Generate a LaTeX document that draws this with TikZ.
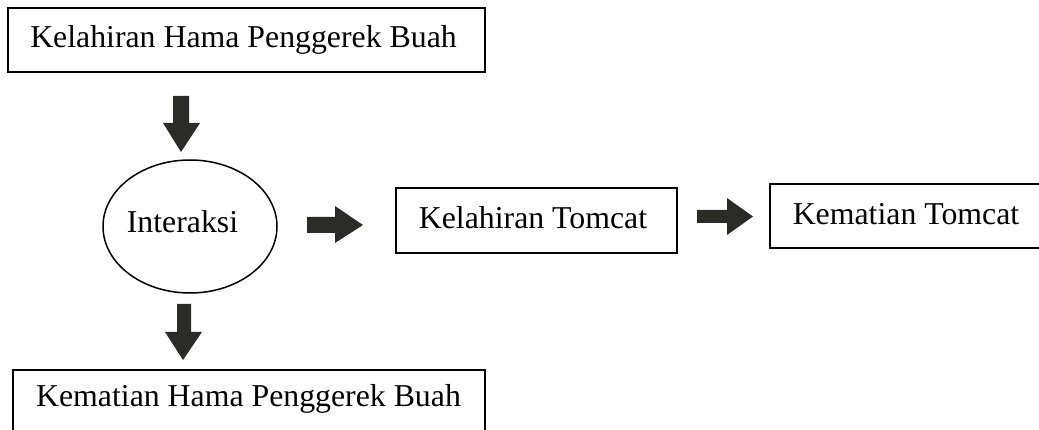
\documentclass[tikz,border=0pt]{standalone}
\usepackage{fontspec}
\setmainfont{Liberation Serif}
\usetikzlibrary{shapes.geometric}
\definecolor{arrowfill}{HTML}{2B2B28}
\tikzset{
  boxnode/.style={draw=black, line width=2pt, rectangle, inner sep=0pt, anchor=center,
    font=\fontsize{31.8}{38}\selectfont},
  txt/.style={inner sep=0pt, font=\fontsize{31.8}{38}\selectfont},
  blockarrow/.style={fill=arrowfill, draw=none}
}
\begin{document}
\begin{tikzpicture}[x=1pt,y=-1pt]
\useasboundingbox (0,0) rectangle (1039,430);
\clip (0,0) rectangle (1039,430);
% boxes
\node[boxnode, minimum width=477pt, minimum height=64pt] (b1) at (246.5,40) {};
\node[txt] (t1) at (243.5,40) {Kelahiran Hama Penggerek Buah};
\node[draw=black, line width=1.5pt, ellipse, minimum width=174pt, minimum height=133pt, inner sep=0pt] (int) at (190,226.5) {};
\node[txt] (tint) at (182.5,222) {Interaksi};
\node[boxnode, minimum width=281pt, minimum height=65pt] (kt) at (536.5,220.5) {};
\node[txt] (tkt) at (533,218) {Kelahiran Tomcat};
\node[boxnode, minimum width=274pt, minimum height=64pt] (kmt) at (907,216) {};
\node[txt] (tkmt) at (906,214) {Kematian Tomcat};
\node[boxnode, minimum width=472pt, minimum height=64pt] (b2) at (249,402) {};
\node[txt] (t2) at (248.5,399) {Kematian Hama Penggerek Buah};
% block arrows
\fill[blockarrow] (173,96) -- (189,96) -- (189,123) -- (200,123) -- (181,152) -- (163,123) -- (173,123) -- cycle;
\fill[blockarrow] (307,217) -- (335,217) -- (335,206) -- (363,225) -- (335,243) -- (335,233) -- (307,233) -- cycle;
\fill[blockarrow] (697,210) -- (727,210) -- (727,198) -- (753,216.5) -- (727,235) -- (727,223) -- (697,223) -- cycle;
\fill[blockarrow] (177,304) -- (191,304) -- (191,332) -- (202,332) -- (183,360) -- (165,332) -- (177,332) -- cycle;
\end{tikzpicture}
\end{document}
